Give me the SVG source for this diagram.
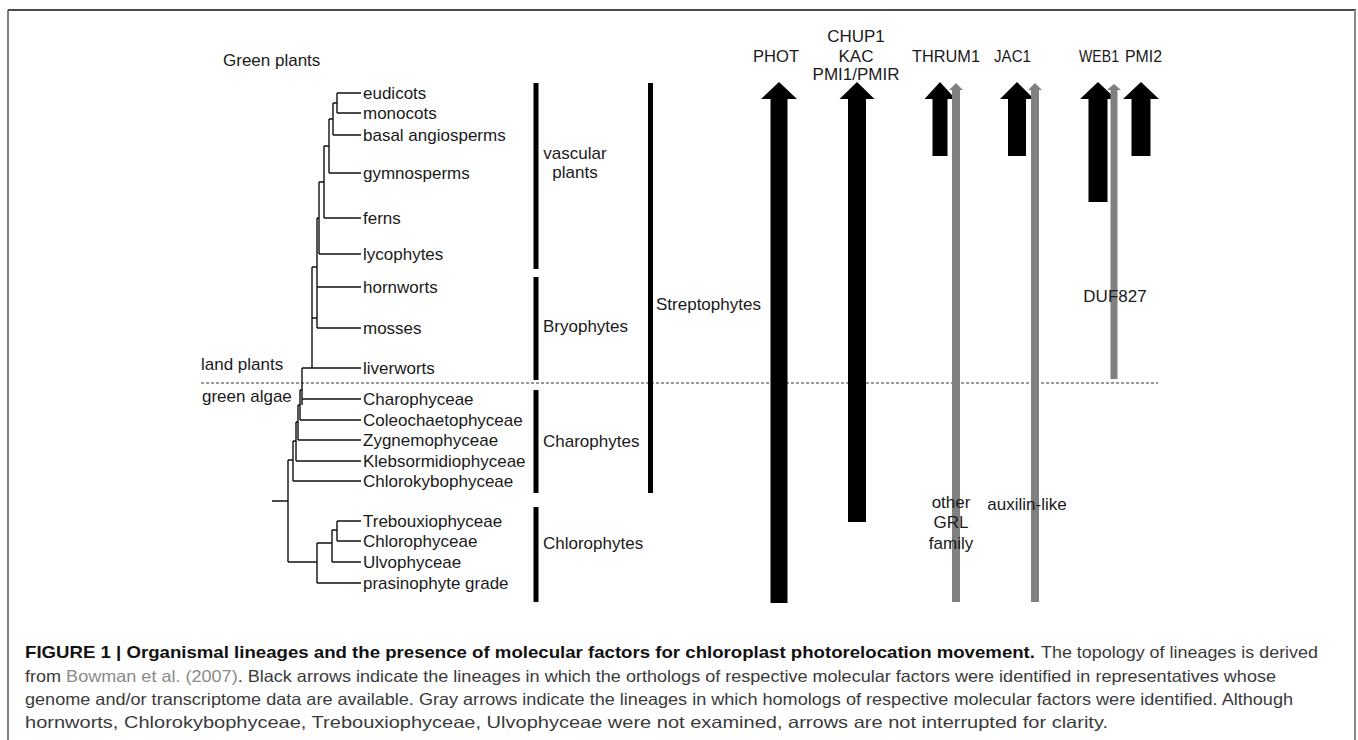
<svg xmlns="http://www.w3.org/2000/svg" width="1358" height="740" viewBox="0 0 1358 740">
<style>
.t{font-family:"Liberation Sans",Arial,sans-serif;font-size:17px;fill:#1a1a1a}
.m{text-anchor:middle}
.tree{fill:none;stroke:#111;stroke-width:1.4}
.bar{fill:#000}
.blk{fill:#000}
.gry{fill:#808080}
.cap{font-family:"Liberation Sans",Arial,sans-serif;font-size:16.5px;fill:#3a3a3a}
.capb{font-family:"Liberation Sans",Arial,sans-serif;font-size:16.5px;font-weight:bold;fill:#111}
</style>
<rect width="1358" height="740" fill="#fff"/>
<g id="frame">
<line x1="8" y1="10" x2="1356" y2="10" stroke="#111" stroke-width="1.5"/>
<line x1="8" y1="10" x2="8" y2="740" stroke="#555" stroke-width="1.5"/>
<line x1="1355" y1="10" x2="1355" y2="740" stroke="#888" stroke-width="2"/>
</g>
<g id="labels-left">
<text class="t" x="223" y="66">Green plants</text>
<text class="t" x="201" y="370">land plants</text>
<text class="t" x="202" y="402">green algae</text>
</g>
<line id="divider" x1="201" y1="383" x2="1158" y2="383" stroke="#333" stroke-width="1" stroke-dasharray="3,2"/>
<g id="tree" class="tree">
<path d="M337 93H361M337 113H361M337 93V113"/>
<path d="M333 103H337M333 135H361M333 103V135"/>
<path d="M329 119H333M329 173H361M329 119V173"/>
<path d="M324 146H329M324 218H361M324 146V218"/>
<path d="M319 182H324M319 254H361M319 182V254"/>
<path d="M317 218H319M317 287H361M317 328H361M317 218V328"/>
<path d="M312 267H317M312 318H317M312 368H361M312 267V368"/>
<path d="M302 368H312M302 399H361M302 368V405"/>
<path d="M300 390H302M300 420H361M300 390V420"/>
<path d="M298 405H300M298 440H361M298 405V440"/>
<path d="M296 422H298M296 461H361M296 422V461"/>
<path d="M293 441H296M293 481H361M293 441V481"/>
<path d="M288 460H293M272 501H288M288 460V562"/>
<path d="M288 562H317M317 543V583M317 583H361"/>
<path d="M317 543H332M332 530V562M332 562H361"/>
<path d="M332 530H337M337 521V541M337 521H361M337 541H361"/>
</g>
<g id="leaves">
<text class="t" x="363" y="99">eudicots</text>
<text class="t" x="363" y="119">monocots</text>
<text class="t" x="363" y="141">basal angiosperms</text>
<text class="t" x="363" y="179">gymnosperms</text>
<text class="t" x="363" y="224">ferns</text>
<text class="t" x="363" y="260">lycophytes</text>
<text class="t" x="363" y="293">hornworts</text>
<text class="t" x="363" y="334">mosses</text>
<text class="t" x="363" y="374">liverworts</text>
<text class="t" x="363" y="405">Charophyceae</text>
<text class="t" x="363" y="426">Coleochaetophyceae</text>
<text class="t" x="363" y="446">Zygnemophyceae</text>
<text class="t" x="363" y="467">Klebsormidiophyceae</text>
<text class="t" x="363" y="487">Chlorokybophyceae</text>
<text class="t" x="363" y="527">Trebouxiophyceae</text>
<text class="t" x="363" y="547">Chlorophyceae</text>
<text class="t" x="363" y="568">Ulvophyceae</text>
<text class="t" x="363" y="589">prasinophyte grade</text>
</g>
<g id="clades">
<g id="vascular"><rect class="bar" x="533.5" y="83" width="5" height="186"/><text class="t m" x="575" y="159">vascular</text><text class="t m" x="575" y="178">plants</text></g>
<g id="bryophytes"><rect class="bar" x="533.5" y="277" width="5" height="103"/><text class="t" x="543" y="332">Bryophytes</text></g>
<g id="charophytes"><rect class="bar" x="533.5" y="390" width="5" height="103"/><text class="t" x="543" y="447">Charophytes</text></g>
<g id="chlorophytes"><rect class="bar" x="533.5" y="507" width="5" height="95"/><text class="t" x="543" y="549">Chlorophytes</text></g>
<g id="streptophytes"><rect class="bar" x="648" y="83" width="5" height="410"/><text class="t" x="656" y="310">Streptophytes</text></g>
</g>
<g id="factors">
<g id="PHOT"><text class="t" x="753" y="62" textLength="46" lengthAdjust="spacingAndGlyphs">PHOT</text>
<polygon class="blk" points="779,82 797,99 787.5,99 787.5,603 770.5,603 770.5,99 761,99"/></g>
<g id="CHUP1"><text class="t m" x="856" y="42">CHUP1</text><text class="t m" x="856" y="62">KAC</text><text class="t m" x="856" y="80">PMI1/PMIR</text>
<polygon class="blk" points="857,82 874.5,99 866,99 866,522 848,522 848,99 839.5,99"/></g>
<g id="THRUM1"><text class="t" x="912" y="62" textLength="68" lengthAdjust="spacingAndGlyphs">THRUM1</text>
<polygon class="blk" points="940,82 955.5,99 947.5,99 947.5,156 932.5,156 932.5,99 924.5,99"/>
<polygon class="gry" points="956,83 963,90 960,90 960,602 952,602 952,90 949,90"/>
<text class="t m" x="951" y="508">other</text><text class="t m" x="951" y="528">GRL</text><text class="t m" x="951" y="549">family</text></g>
<g id="JAC1"><text class="t" x="994" y="62" textLength="37" lengthAdjust="spacingAndGlyphs">JAC1</text>
<polygon class="blk" points="1017,82 1034,99 1026,99 1026,156 1008,156 1008,99 1000,99"/>
<polygon class="gry" points="1035,83 1042,90 1039,90 1039,602 1031,602 1031,90 1028,90"/>
<text class="t m" x="1027" y="510">auxilin-like</text></g>
<g id="WEB1"><text class="t" x="1079" y="62" textLength="40" lengthAdjust="spacingAndGlyphs">WEB1</text>
<polygon class="blk" points="1098,82 1116,99 1107.5,99 1107.5,202 1088.5,202 1088.5,99 1080,99"/>
<polygon class="gry" points="1114,84 1121,90 1117.5,90 1117.5,379 1110.5,379 1110.5,90 1107,90"/>
<text class="t m" x="1115" y="302">DUF827</text></g>
<g id="PMI2"><text class="t" x="1125" y="62" textLength="37" lengthAdjust="spacingAndGlyphs">PMI2</text>
<polygon class="blk" points="1141,82 1159,99 1150.5,99 1150.5,156 1131.5,156 1131.5,99 1123,99"/></g>
</g>
<g id="caption">
<text class="capb" x="25" y="658" textLength="1010" lengthAdjust="spacingAndGlyphs">FIGURE 1 | Organismal lineages and the presence of molecular factors for chloroplast photorelocation movement.</text>
<text class="cap" x="1041" y="658" textLength="277" lengthAdjust="spacingAndGlyphs">The topology of lineages is derived</text>
<text class="cap" x="25" y="682" textLength="1251" lengthAdjust="spacingAndGlyphs">from <tspan fill="#8a8a8a">Bowman et al. (2007)</tspan>. Black arrows indicate the lineages in which the orthologs of respective molecular factors were identified in representatives whose</text>
<text class="cap" x="25" y="705" textLength="1268" lengthAdjust="spacingAndGlyphs">genome and/or transcriptome data are available. Gray arrows indicate the lineages in which homologs of respective molecular factors were identified. Although</text>
<text class="cap" x="25" y="728" textLength="1083" lengthAdjust="spacingAndGlyphs">hornworts, Chlorokybophyceae, Trebouxiophyceae, Ulvophyceae were not examined, arrows are not interrupted for clarity.</text>
</g>
</svg>
